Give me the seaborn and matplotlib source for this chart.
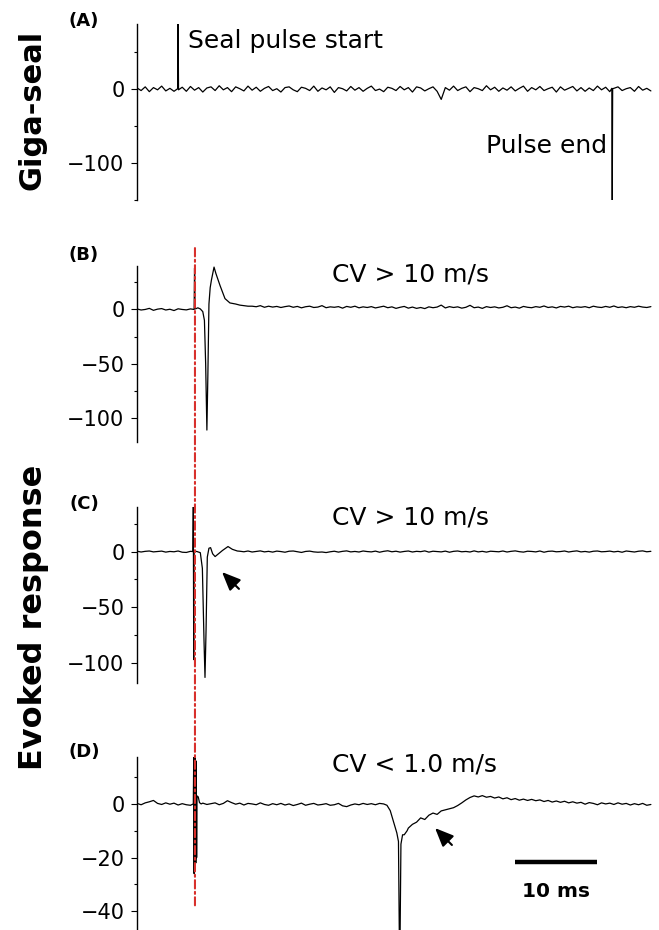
import numpy as np
import pandas as pd
import matplotlib
matplotlib.use("Agg")
import matplotlib.pyplot as plt
import seaborn as sns
from matplotlib.patches import ConnectionPatch

sns.set_style("ticks", {"axes.edgecolor": "black", "text.color": "black",
                        "axes.labelcolor": "black", "ytick.color": "black",
                        "xtick.color": "black"})
plt.rcParams["font.family"] = ["DejaVu Sans"]

# ---- data (time in ms, response in panel units) ----
stim_t = 7.05

# (A) giga-seal, baseline sampled every 0.5 ms + the two pulse edges
a_base1 = [1.5, -2.0, 3.0, -3.5, 2.0, -1.0, 4.0, -2.5, 1.0, -3.0]
a_start_t = [4.95, 5.0, 5.05]
a_start_v = [0.5, 88.0, -1.0]
a_base2 = [2.5, -3.0, 3.5, -1.5, 2.0, -4.0, 1.5, 3.0, -2.0, 4.5,
           -1.0, 2.0, -3.5, 3.0, 0.5, -2.5, 4.0, -1.5, 2.5, -3.0,
           1.0, 3.5, -2.0, 0.5, -4.0, 2.0, 3.0, -1.0, -3.5, 2.5,
           1.0, -2.0, 4.0, -3.0, 1.5, -1.0, 3.0, -4.5, 2.0, 0.5,
           -2.5, 3.5, -1.5, 2.0, -3.0, 1.0, 4.0, -2.0, 0.0, -3.5,
           2.5, 1.0, -2.0, 3.5, -1.0, 2.0, -4.0, 3.0, 1.5, -2.5,
           0.5, 3.0, -3.0, -14.0, 2.0, -1.5, 4.0, -2.0, 1.0, 3.0,
           -3.5, 2.0, 0.5, -2.0, 4.5, -1.0, 2.5, -3.0, 1.5, -1.5,
           3.0, -2.5, 1.0, 4.0, -3.0, 2.0, -1.0, 3.5, -2.0, 0.5,
           2.5, -4.0, 3.0, -1.5, 1.0, 3.5, -2.5, 2.0, -3.0, 1.5,
           -2.0, 4.0, -1.0, 2.5, -3.5]
a_end_t = [57.75, 57.8, 57.85]
a_end_v = [1.0, -150.0, 0.5]
a_base3 = [1.0, 3.0, -2.0, 0.5, 2.0, -3.0, 3.5, -1.5, 1.0, -2.5]

# (B) fast response, CV > 10 m/s
b_base1 = [0.5, -0.5, 0.0, 1.0, -0.8, 0.3, 0.8, -0.5, 0.2, -1.0, 0.6, 0.0, -0.4, 0.5]
b_resp_t = [6.95, 7.0, 7.05, 7.1, 7.4, 7.7, 8.0, 8.2, 8.35, 8.5, 8.62, 8.75,
            8.9, 9.05, 9.37, 9.6, 10.1, 10.7, 11.3, 12.0, 12.5, 13.0, 13.5]
b_resp_v = [0.0, 38.0, 10.0, 0.5, 1.5, 0.5, -2.0, -10.0, -50.0, -111.0, -60.0, 5.0,
            20.0, 27.0, 39.0, 33.0, 22.0, 10.0, 6.0, 5.0, 4.0, 3.5, 3.0]
b_base2 = [3.0, 2.5, 3.5, 2.0, 3.0, 2.2, 2.8, 1.8, 2.6, 3.2,
           2.0, 2.8, 1.5, 2.5, 3.0, 1.8, 2.2, 3.5, 1.6, 2.4,
           2.0, 2.6, 1.2, 2.8, 2.0, 3.0, 1.5, 2.4, 1.8, 2.6,
           1.4, 2.2, 3.0, 1.6, 2.4, 1.0, 2.0, 2.8, 1.2, 2.2,
           1.0, 1.8, 0.8, 2.4, 1.6, 2.2, 4.0, 1.4, 2.6, 1.8,
           2.4, 1.2, 2.0, 3.8, 1.6, 2.2, 1.0, 2.6, 1.8, 2.4,
           1.4, 2.0, 3.4, 1.6, 2.2, 1.2, 2.8, 2.0, 1.6, 2.6,
           2.0, 3.2, 1.8, 2.4, 1.4, 2.8, 2.2, 3.0, 1.6, 2.4,
           2.0, 2.6, 1.6, 3.0, 2.2, 1.8, 2.8, 2.0, 3.2, 1.8,
           2.4, 1.6, 2.6, 2.0, 3.0, 2.2, 1.8, 2.6]

# (C) fast response, CV > 10 m/s
c_base1 = [0.3, -0.4, 0.2, 0.5, -0.3, 0.0, 0.4, -0.5, 0.1, -0.2, 0.5, -0.6, -0.8, 0.2]
c_resp_t = [6.8, 6.85, 6.9, 6.95, 7.3, 7.7, 7.95, 8.15, 8.27, 8.4, 8.55, 8.75,
            8.95, 9.2, 9.5, 9.9, 10.4, 11.07, 11.6, 12.2]
c_resp_v = [0.0, 40.0, -97.0, 0.5, 0.0, -1.0, -15.0, -80.0, -113.0, -70.0, -5.0, 3.0,
            3.5, -2.0, -4.5, -2.0, 1.0, 4.5, 2.0, 0.5]
c_base2 = [0.3, -0.2, 0.5, -0.4, 0.1, 0.6, -0.3, 0.2, -0.5, 0.4,
           0.0, -0.6, 0.3, 0.5, -0.2, -0.8, 0.1, 0.4, -0.3, -0.6,
           -0.4, -0.9, -0.2, 0.3, -0.5, 0.2, 0.6, -0.3, 0.1, -0.4,
           0.5, 0.0, -0.3, 0.4, -0.6, 0.2, 0.7, -0.2, 0.3, -0.5,
           0.1, 0.5, -0.4, 0.2, -0.1, 0.6, -0.5, 0.3, 0.0, -0.3,
           0.4, -0.6, 0.2, 0.5, -0.2, 0.1, -0.4, 0.6, -0.3, 0.2,
           -0.5, 0.3, 0.0, -0.2, 0.5, -0.4, 0.2, 0.6, -0.1, -0.5,
           0.3, 0.1, -0.3, 0.5, -0.6, 0.2, 0.4, -0.2, 0.0, 0.5,
           -0.4, 0.2, 0.6, -0.3, 0.1, -0.5, 0.3, 0.5, -0.2, 0.0,
           0.4, -0.3, 0.2, -0.6, 0.5, 0.1, -0.4, 0.3, 0.6, -0.2,
           0.2]

# (D) slow response, CV < 1.0 m/s
d_base1 = [0.2, -0.3, 0.4, 0.8, 1.3, 0.2, -0.2, 0.4, -0.1, 0.3, -0.4, 0.1, -0.3, -0.5]
d_art_t = [6.85, 6.9, 6.95, 7.0, 7.05, 7.1, 7.15, 7.2, 7.25, 7.3, 7.45, 7.6, 7.8]
d_art_v = [0.0, 17.5, -26.0, 17.5, -24.0, 17.0, -22.0, 16.0, -20.0, 3.0, 2.6, 0.5, 0.0]
d_base2 = [0.3, -0.2, 0.1, 0.4, -0.3, 0.2, 1.2, 0.5, -0.1, 0.3,
           -0.4, 0.2, 0.0, -0.3, 0.4, -0.2, -0.5, 0.1, -0.3, 0.2,
           -0.4, 0.0, -0.6, -0.2, 0.3, -0.5, -0.1, 0.2, -0.4, -0.2,
           0.1, -0.5, -0.3, 0.2, -0.7, -1.0, -0.4, 0.0, -0.3, 0.2,
           -0.2, 0.1, -0.3, 0.2, 0.0]
d_resp_t = [30.4, 30.8, 31.2, 31.6, 31.8, 31.95, 32.1, 32.3, 32.5, 32.85]
d_resp_v = [-0.5, -2.5, -6.6, -10.8, -14.0, -65.0, -15.0, -11.5, -11.5, -10.0]
d_base3 = [-9.0, -7.6, -6.8, -5.2, -5.8, -4.2, -3.4, -3.9, -2.6, -2.2,
           -1.8, -1.4, -0.6, 0.4, 1.5, 2.4, 3.0, 2.6, 3.1, 2.5,
           2.8, 2.2, 2.6, 1.9, 2.3, 1.6, 2.0, 1.4, 1.8, 1.3,
           1.7, 1.2, 1.5, 0.9, 1.3, 0.7, 1.1, 0.6, 1.0, 0.4,
           0.8, 0.3, 0.6, -0.1, 0.5, 0.2, -0.3, 0.4, 0.0, 0.3,
           -0.2, 0.4, -0.1, 0.2, -0.4, 0.1, -0.3, 0.2, -0.5, -0.2]

cv_labels = ["CV > 10 m/s", "CV > 10 m/s", "CV < 1.0 m/s"]
scale_ms = 10


def sampled(t0, vals):
    return pd.DataFrame({"t": t0 + 0.5 * np.arange(len(vals)), "v": vals})


def events(ts, vals):
    return pd.DataFrame({"t": ts, "v": vals})


trace_a = pd.concat([sampled(0.0, a_base1), events(a_start_t, a_start_v),
                     sampled(5.5, a_base2), events(a_end_t, a_end_v),
                     sampled(58.0, a_base3)], ignore_index=True)
trace_b = pd.concat([sampled(0.0, b_base1), events(b_resp_t, b_resp_v),
                     sampled(14.0, b_base2)], ignore_index=True)
trace_c = pd.concat([sampled(0.0, c_base1), events(c_resp_t, c_resp_v),
                     sampled(12.5, c_base2)], ignore_index=True)
trace_d = pd.concat([sampled(0.0, d_base1), events(d_art_t, d_art_v),
                     sampled(8.0, d_base2), events(d_resp_t, d_resp_v),
                     sampled(33.0, d_base3)], ignore_index=True)

fig = plt.figure(figsize=(6.59, 9.30), dpi=100)
left, width = 137 / 659, 518 / 659
ax_a = fig.add_axes([left, 730 / 930, width, 176 / 930])
ax_b = fig.add_axes([left, 488 / 930, width, 176 / 930])
ax_c = fig.add_axes([left, 247 / 930, width, 176 / 930])
ax_d = fig.add_axes([left, 0.0, width, 173 / 930])


def style_axis(ax, ylim, major, minor):
    ax.set_xlim(0, 63)
    ax.set_ylim(*ylim)
    ax.set_yticks(major)
    ax.set_yticks(minor, minor=True)
    ax.set_xticks([])
    for s in ["top", "right", "bottom"]:
        ax.spines[s].set_visible(False)
    ax.spines["left"].set_linewidth(1.0)
    ax.tick_params(axis="y", which="major", length=4, width=0.8, labelsize=15,
                   pad=5, colors="black")
    ax.tick_params(axis="y", which="minor", length=2.5, width=0.8, colors="black")
    ax.set_xlabel("")
    ax.set_ylabel("")
    ax.patch.set_alpha(0)


for ax, tr in zip([ax_a, ax_b, ax_c, ax_d], [trace_a, trace_b, trace_c, trace_d]):
    sns.lineplot(data=tr, x="t", y="v", ax=ax, color="black", lw=0.9,
                 estimator=None, sort=False)

style_axis(ax_a, (-150, 88), [0, -100], [50, -50, -150])
style_axis(ax_b, (-122, 40), [0, -50, -100], [25, -25, -75])
style_axis(ax_c, (-118, 40), [0, -50, -100], [25, -25, -75])
style_axis(ax_d, (-47, 17.5), [0, -20, -40], [10, -10, -30])

# annotations
ax_a.text(6.2, 56, "Seal pulse start", fontsize=18, va="baseline", color="black")
ax_a.text(57.2, -86, "Pulse end", fontsize=18, va="baseline", ha="right", color="black")
ax_b.text(23.7, 25.5, cv_labels[0], fontsize=18, va="baseline", color="black")
ax_c.text(23.7, 24, cv_labels[1], fontsize=18, va="baseline", color="black")
ax_d.text(23.7, 12, cv_labels[2], fontsize=18, va="baseline", color="black")

arrow = dict(arrowstyle="-|>,head_length=0.7,head_width=0.3", color="black",
             lw=1.5, mutation_scale=16, shrinkA=0, shrinkB=0)
ax_c.annotate("", xy=(10.34, -18.4), xytext=(12.4, -33.5), arrowprops=arrow)
ax_d.annotate("", xy=(36.25, -9.0), xytext=(38.3, -15.3), arrowprops=arrow)

# scale bar
ax_d.plot([46, 46 + scale_ms], [-21.7, -21.7], color="black", lw=3.2,
          solid_capstyle="butt")
ax_d.text(46 + scale_ms / 2, -34.6, f"{scale_ms} ms", fontsize=14.5,
          fontweight="bold", ha="center", va="baseline", color="black")

# stimulus marker running through panels B-D
con = ConnectionPatch(xyA=(stim_t, 56.5), coordsA=ax_b.transData,
                      xyB=(stim_t, -37.8), coordsB=ax_d.transData,
                      color="#d8302c", lw=1.5, linestyle=(0, (4, 1.6, 1, 1.6)),
                      zorder=5)
fig.add_artist(con)

# panel letters and row labels
for lab, ypx in zip(["(A)", "(B)", "(C)", "(D)"], [21, 255, 504, 752]):
    fig.text(84 / 659, 1 - ypx / 930, lab, fontsize=13, fontweight="bold",
             ha="center", va="center", color="black")
fig.text(32 / 659, 1 - 110 / 930, "Giga-seal", fontsize=22, fontweight="bold",
         rotation=90, ha="center", va="center", color="black")
fig.text(34 / 659, 1 - 617 / 930, "Evoked response", fontsize=23, fontweight="bold",
         rotation=90, ha="center", va="center", color="black")

fig.savefig("out.png", dpi=100)
